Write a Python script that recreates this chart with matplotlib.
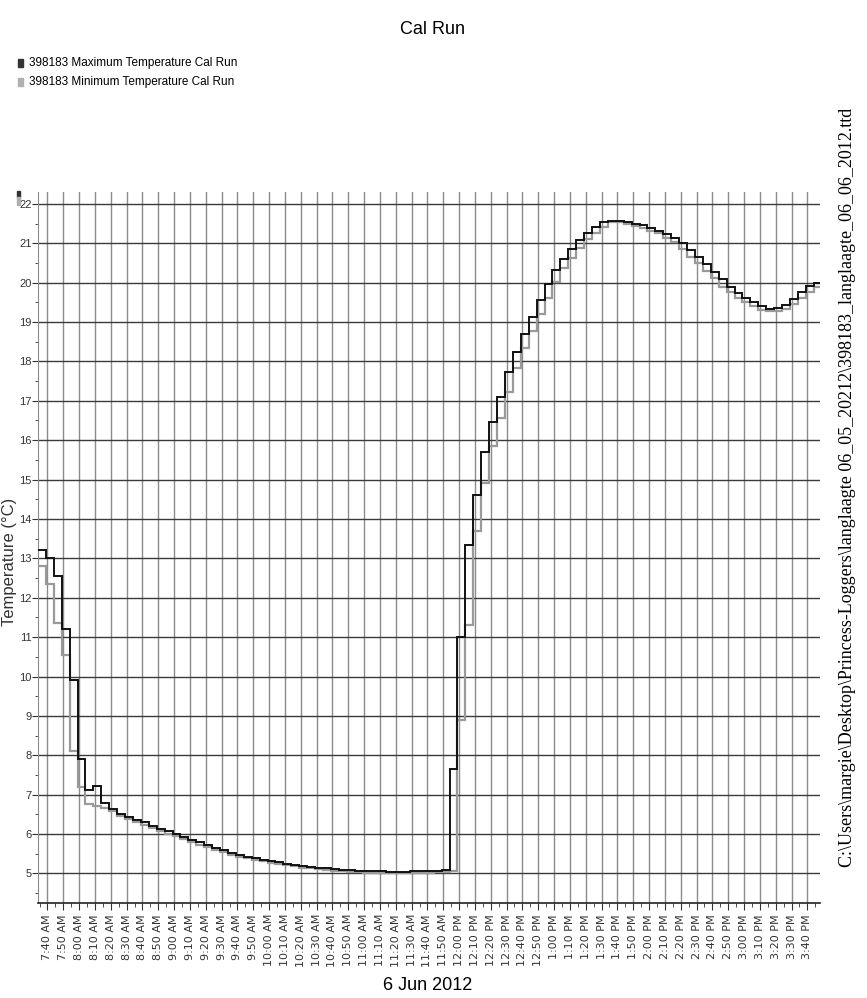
import matplotlib
matplotlib.use("Agg")
import matplotlib.pyplot as plt
import matplotlib.dates as mdates
from matplotlib.patches import Rectangle
import pandas as pd

NARROW = ["Liberation Sans Narrow", "Liberation Sans", "DejaVu Sans"]

TITLE = "Cal Run"
X_LABEL = "6 Jun 2012"
Y_LABEL = "Temperature (°C)"
SERIES = ["398183 Maximum Temperature Cal Run", "398183 Minimum Temperature Cal Run"]
FILE_PATH = r"C:\Users\margie\Desktop\Princess-Loggers\langlaagte 06_05_20212\398183_langlaagte_06_06_2012.ttd"

# logger records max / min every 5 minutes, first record at 7:34 AM
START = "2012-06-06 07:34"

max_temp = [
    13.2, 13.0, 12.55, 11.2, 9.9, 7.9, 7.13, 7.23, 6.78,
    6.64, 6.51, 6.43, 6.36, 6.3, 6.21, 6.14,
    6.07, 6.0, 5.93, 5.86, 5.79, 5.72, 5.65, 5.59, 5.53, 5.48, 5.43, 5.39, 5.35, 5.31,
    5.28, 5.25, 5.22, 5.19, 5.17, 5.15, 5.13, 5.11, 5.10, 5.08,
    5.07, 5.06, 5.05, 5.05, 5.04, 5.04, 5.04, 5.05, 5.05, 5.06, 5.07, 5.08,
    7.65, 11.0, 13.35, 14.6,
    15.7, 16.45, 17.1, 17.72, 18.25, 18.7, 19.12, 19.55, 19.97, 20.33, 20.6, 20.85,
    21.07, 21.25, 21.42, 21.53, 21.57, 21.57, 21.53, 21.5, 21.45, 21.38,
    21.32, 21.24, 21.14, 21.0, 20.84, 20.66, 20.46, 20.28, 20.09, 19.9,
    19.73, 19.6, 19.5, 19.4, 19.33, 19.35, 19.44, 19.58, 19.76, 19.92, 20.0,
]

min_temp = [
    12.8, 12.35, 11.35, 10.55, 8.1, 7.2, 6.77, 6.7, 6.67,
    6.58, 6.45, 6.37, 6.3, 6.24, 6.15, 6.08,
    6.01, 5.94, 5.87, 5.8, 5.73, 5.66, 5.6, 5.54, 5.48, 5.43, 5.39, 5.35, 5.31, 5.27,
    5.24, 5.21, 5.18, 5.15, 5.13, 5.11, 5.09, 5.07, 5.06, 5.04,
    5.03, 5.02, 5.01, 5.01, 5.0, 5.0, 5.0, 5.01, 5.01, 5.02, 5.03, 5.04,
    5.05, 8.9, 11.3, 13.7,
    14.9, 15.85, 16.55, 17.23, 17.83, 18.35, 18.78, 19.2, 19.62, 20.02, 20.37, 20.62,
    20.88, 21.1, 21.27, 21.42, 21.53, 21.55, 21.5, 21.43, 21.38, 21.32,
    21.25, 21.14, 21.04, 20.86, 20.66, 20.5, 20.3, 20.12, 19.9, 19.76,
    19.6, 19.5, 19.4, 19.31, 19.27, 19.29, 19.33, 19.45, 19.6, 19.77, 19.9,
]

X_MIN = "2012-06-06 07:34"
X_MAX = "2012-06-06 15:48"
Y_MIN, Y_MAX = 4.25, 22.3


def main():
    edges = pd.date_range(START, periods=len(max_temp) + 1, freq="5min")
    x = mdates.date2num(edges.to_pydatetime())

    fig = plt.figure(figsize=(8.67, 9.98), dpi=100)
    W, H = 867, 998
    ax = fig.add_axes([38 / W, 1 - 903 / H, (820 - 38) / W, (903 - 192) / H])

    ax.stairs(min_temp, x, baseline=None, color="#9a9a9a", linewidth=1.6, zorder=3)
    ax.stairs(max_temp, x, baseline=None, color="#111111", linewidth=1.4, zorder=4)

    ax.set_xlim(mdates.date2num(pd.Timestamp(X_MIN)), mdates.date2num(pd.Timestamp(X_MAX)))
    ax.set_ylim(Y_MIN, Y_MAX)

    ax.xaxis.set_major_locator(mdates.MinuteLocator(byminute=range(0, 60, 10)))
    ax.xaxis.set_minor_locator(mdates.MinuteLocator(byminute=range(5, 60, 10)))
    ax.xaxis.set_major_formatter(mdates.DateFormatter("%-I:%M %p"))
    ax.set_yticks(range(5, 23))
    ax.set_yticks([v + 0.5 for v in range(4, 22)], minor=True)

    ax.grid(axis="x", which="major", color="#8c8c8c", linewidth=1.0)
    ax.grid(axis="y", which="major", color="#3a3a3a", linewidth=1.0)
    ax.set_axisbelow(True)

    for side in ("top", "right"):
        ax.spines[side].set_visible(False)
    ax.spines["left"].set_color("#8c8c8c")
    ax.spines["bottom"].set_color("#222222")
    ax.spines["bottom"].set_linewidth(1.2)

    ax.tick_params(axis="x", which="major", length=5, pad=3, rotation=90, colors="#333333",
                   labelsize=8)
    ax.tick_params(axis="x", which="minor", length=3, color="#333333")
    ax.tick_params(axis="y", which="major", length=4, pad=0.5, colors="#333333")
    ax.tick_params(axis="y", which="minor", length=2, color="#333333")
    for lab in ax.get_xticklabels():
        lab.set_family("DejaVu Sans")
    for lab in ax.get_yticklabels():
        lab.set_family(NARROW)
        lab.set_fontsize(8)

    fig.text(433 / W, 1 - 30 / H, TITLE, family=NARROW, fontsize=13, ha="center", va="center")
    fig.text(428 / W, 1 - 985 / H, X_LABEL, family=NARROW, fontsize=13, ha="center", va="center")
    fig.text(10 / W, 1 - 562 / H, Y_LABEL, family="Liberation Sans", fontsize=12,
             rotation=90, ha="center", va="center", color="#333333")

    # legend
    for i, (name, col) in enumerate(zip(SERIES, ["#333333", "#b0b0b0"])):
        yc = 63 + 19 * i
        fig.patches.append(Rectangle((18 / W, 1 - (yc + 4) / H), 5 / W, 8 / H,
                                     transform=fig.transFigure, color=col))
        fig.text(29 / W, 1 - yc / H, name, family=NARROW, fontsize=8.5, ha="left", va="center")

    # small series markers at the top of the value axis
    fig.patches.append(Rectangle((17 / W, 1 - 197 / H), 3 / W, 6 / H,
                                 transform=fig.transFigure, color="#333333"))
    fig.patches.append(Rectangle((17 / W, 1 - 205 / H), 3 / W, 8 / H,
                                 transform=fig.transFigure, color="#b0b0b0"))

    fig.text(848 / W, 1 - 487 / H, FILE_PATH, family="Liberation Serif", fontsize=13,
             rotation=90, ha="center", va="center")

    fig.savefig("out.png", dpi=100, facecolor="white")


if __name__ == "__main__":
    main()
